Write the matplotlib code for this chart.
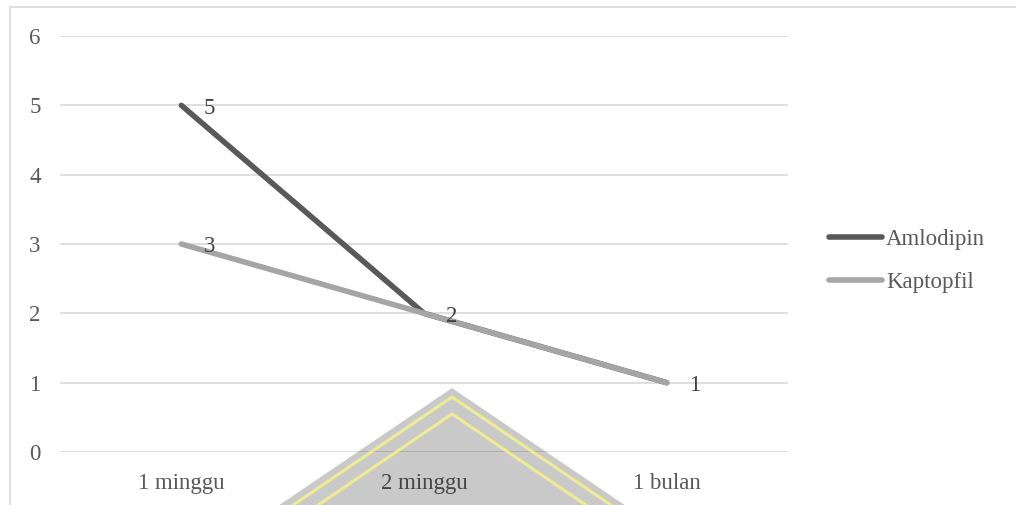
import matplotlib.pyplot as plt
from matplotlib.patches import Polygon, Rectangle
from matplotlib.lines import Line2D

# data
categories = ["1 minggu", "2 minggu", "1 bulan"]
amlodipin = [5, 2, 1]
kaptopfil = [3, 2, 1]
y_ticks = [0, 1, 2, 3, 4, 5, 6]

plt.rcParams['font.family'] = ['Liberation Serif', 'DejaVu Serif']
txt = '#595959'
fs = 16.5

fig = plt.figure(figsize=(10.16, 5.05), dpi=100)
ax = fig.add_axes([60 / 1016, 1 - 452 / 505, 728 / 1016, 416 / 505])

x = range(len(categories))
ax.plot(x, amlodipin, color='#595959', lw=4, solid_capstyle='round',
        solid_joinstyle='round', label='Amlodipin', zorder=3)
ax.plot(x, kaptopfil, color='#a5a5a5', lw=4, solid_capstyle='round',
        solid_joinstyle='round', label='Kaptopfil', zorder=4)

# data labels
for i, v in enumerate(amlodipin):
    if amlodipin[i] != kaptopfil[i]:
        ax.annotate(str(v), (i, v), xytext=(16, -2), textcoords='offset points',
                    ha='left', va='center', fontsize=fs, color='#404040', zorder=5)
for i, v in enumerate(kaptopfil):
    ax.annotate(str(v), (i, v), xytext=(16, -2), textcoords='offset points',
                ha='left', va='center', fontsize=fs, color='#404040', zorder=5)

ax.set_xlim(-0.5, len(categories) - 0.5)
ax.set_ylim(0, 6)
ax.set_yticks(y_ticks)
ax.set_xticks(list(x))
ax.set_xticklabels(categories)
ax.tick_params(length=0, labelsize=fs, labelcolor=txt)
ax.tick_params(axis='y', pad=14)
ax.tick_params(axis='x', pad=15)
ax.grid(axis='y', color='#d9d9d9', lw=1.2)
ax.set_axisbelow(True)
for s in ax.spines.values():
    s.set_visible(False)

# legend
handles = [Line2D([], [], color='#595959', lw=4, solid_capstyle='round'),
           Line2D([], [], color='#a5a5a5', lw=4, solid_capstyle='round')]
fig.legend(handles, ['Amlodipin', 'Kaptopfil'], loc='center left',
           bbox_to_anchor=(808 / 1016, 1 - 261 / 505), frameon=False,
           fontsize=fs, labelcolor=txt, handlelength=2.35, handletextpad=0.15,
           labelspacing=0.95)

# chart border
fig.patches.append(Rectangle((10 / 1016, -0.1), 1.2, (1 - 7 / 505) + 0.1,
                             transform=fig.transFigure, fill=False,
                             edgecolor='#d9d9d9', lw=1.2, zorder=0))

# watermark
def fp(px, py):
    return (px / 1016, 1 - py / 505)

tri = Polygon([fp(452, 388), fp(272, 510), fp(632, 510)], closed=True,
              transform=fig.transFigure, facecolor='black', alpha=0.21,
              edgecolor='none', zorder=10)
fig.patches.append(tri)
for top, half in [(397, 185), (414, 185)]:
    fig.lines.append(Line2D([fp(452 - half, top + half * 0.68)[0], fp(452, top)[0],
                             fp(452 + half, top + half * 0.68)[0]],
                            [fp(0, top + half * 0.68)[1], fp(0, top)[1],
                             fp(0, top + half * 0.68)[1]],
                            transform=fig.transFigure, color='#f7f28a',
                            lw=2.2, alpha=0.85, zorder=11))

fig.savefig('out.png', dpi=100)
